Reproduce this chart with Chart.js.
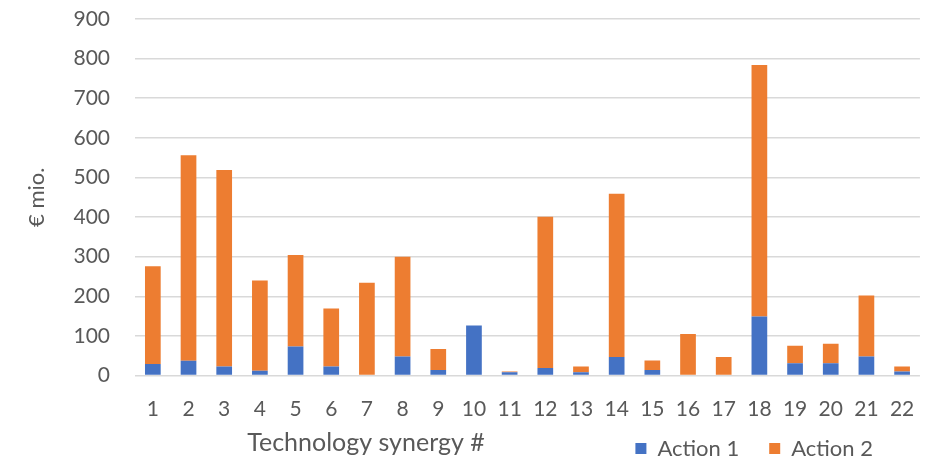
<!DOCTYPE html>
<html>
<head>
<meta charset="utf-8">
<script src="https://cdn.jsdelivr.net/npm/chart.js@4/dist/chart.umd.min.js"></script>
<style>
  html, body { margin: 0; padding: 0; background: #fff; }
  #wrap { width: 936px; height: 461px; }
</style>
</head>
<body>
<div id="wrap"><canvas id="synergyChart" width="936" height="461"></canvas></div>
<script>
// data (€ mio.)
const synergies = ['1','2','3','4','5','6','7','8','9','10','11','12','13','14','15','16','17','18','19','20','21','22'];
const action1 = [29, 37, 23, 12, 73, 23, 2, 48, 14, 126, 8, 19, 8, 47, 14, 0, 0, 149, 31, 31, 48, 10];
const action2 = [247, 519, 496, 228, 231, 146, 232, 252, 53, 0, 2, 382, 15, 412, 24, 105, 47, 635, 44, 49, 154, 13];
const yTicks = [0, 100, 200, 300, 400, 500, 600, 700, 800, 900];
const xTitle = 'Technology synergy #';
const yTitle = '€ mio.';

const textGrey = '#595959';
const fontFam = 'Lato, "Open Sans", sans-serif';

// x axis title sits on the legend row, left of the legend
const xTitlePlugin = {
    id: 'xTitle',
    afterLayout(chart) {
        // nudge legend to line up with the reference
        const lg = chart.legend;
        lg.left -= 23; lg.right -= 23;
        lg.top -= 15; lg.bottom -= 15;
    },
    afterDraw(chart) {
        const ctx = chart.ctx;
        ctx.save();
        ctx.font = '25px ' + fontFam;
        ctx.fillStyle = textGrey;
        ctx.textAlign = 'center';
        ctx.textBaseline = 'middle';
        ctx.fillText(xTitle, 366, 443);
        ctx.restore();
    }
};

function manageSynergyChart() {
    let ctx = document.getElementById('synergyChart').getContext('2d');
    new Chart(ctx, {
        type: 'bar',
        data: {
            labels: synergies,
            datasets: [{
                label: 'Action 1',
                data: action1,
                backgroundColor: '#4472C4',
                borderWidth: 0
            },
                {
                    label: 'Action 2',
                    data: action2,
                    backgroundColor: '#ED7D31',
                    borderWidth: 0
                }
            ]
        },
        options: {
            responsive: false,
            animation: false,
            layout: { padding: { top: 19, right: 10, left: 0, bottom: -23.5 } },
            datasets: { bar: { categoryPercentage: 1, barPercentage: 0.44 } },
            plugins: {
                tooltip: { enabled: false },
                legend: {
                    position: 'bottom',
                    align: 'end',
                    labels: {
                        boxWidth: 11,
                        boxHeight: 11,
                        padding: 30,
                        color: textGrey,
                        font: { family: fontFam, size: 22 }
                    }
                }
            },
            scales: {
                x: {
                    stacked: true,
                    grid: { display: false, drawTicks: false },
                    border: { display: false },
                    ticks: { color: textGrey, padding: 21.5, maxRotation: 0, font: { family: fontFam, size: 21 } },
                    afterFit: s => { s.height = 47; }
                },
                y: {
                    stacked: true,
                    min: 0,
                    max: 900,
                    afterBuildTicks: s => { s.ticks = yTicks.map(v => ({ value: v })); },
                    afterFit: s => {
                        s.width = 135;
                        s.paddingTop = 0;
                        s.paddingBottom = 0;
                    },
                    grid: { color: '#d9d9d9', lineWidth: 1.5, drawTicks: false },
                    border: { display: false },
                    ticks: { color: textGrey, padding: 25, font: { family: fontFam, size: 21 } },
                    title: {
                        display: true,
                        text: yTitle,
                        color: textGrey,
                        padding: { top: 24, bottom: 0 },
                        font: { family: fontFam, size: 22 }
                    }
                }
            }
        },
        plugins: [xTitlePlugin]
    });
}

manageSynergyChart();
</script>
</body>
</html>
